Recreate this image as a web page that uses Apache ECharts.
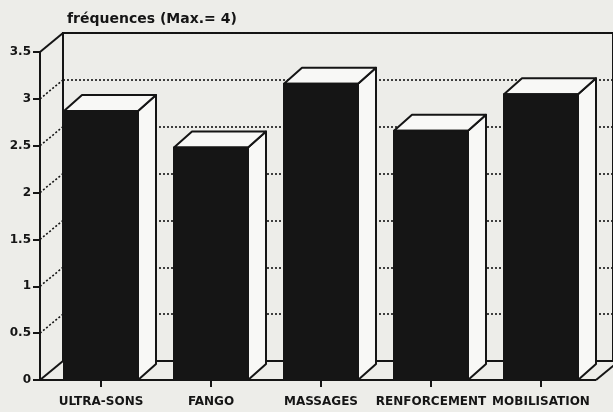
<!DOCTYPE html>
<html>
<head>
<meta charset="utf-8">
<script src="https://cdn.jsdelivr.net/npm/echarts@6/dist/echarts.min.js"></script>
<style>
  html, body { margin: 0; padding: 0; background: #edede9; }
  #chart { width: 613px; height: 412px; }
</style>
</head>
<body>
<div id="chart"></div>
<script>
const categories = ['ULTRA-SONS', 'FANGO', 'MASSAGES', 'RENFORCEMENT', 'MOBILISATION']
const frequencies = [2.87, 2.48, 3.16, 2.66, 3.05]
const yTicks = [0, 0.5, 1, 1.5, 2, 2.5, 3, 3.5]

const ink = '#151515'
const face = '#f8f8f6'
const font = 'DejaVu Sans'

// depth of the box walls and of the bars, in pixels
const wallDx = 23
const wallDy = -19
const barDx = 18
const barDy = -16
const barWidth = 74
const axisShift = 6

function renderBar(params, api) {
  const i = api.value(0)
  const top = api.coord([i, api.value(1)])
  const base = api.coord([i, 0])
  const x0 = top[0] - barWidth / 2
  const x1 = top[0] + barWidth / 2
  const line = { stroke: ink, lineWidth: 2, lineJoin: 'round' }
  return {
    type: 'group',
    children: [
      {
        type: 'polygon',
        shape: { points: [[x1, base[1]], [x1 + barDx, base[1] + barDy], [x1 + barDx, top[1] + barDy], [x1, top[1]]] },
        style: Object.assign({ fill: face }, line),
      },
      {
        type: 'polygon',
        shape: { points: [[x0, top[1]], [x0 + barDx, top[1] + barDy], [x1 + barDx, top[1] + barDy], [x1, top[1]]] },
        style: Object.assign({ fill: face }, line),
      },
      {
        type: 'rect',
        shape: { x: x0, y: top[1], width: barWidth, height: base[1] - top[1] },
        style: Object.assign({ fill: ink }, line),
      },
    ],
  }
}

function renderSideWall(params, api) {
  const cs = params.coordSys
  const v = api.value(1)
  const p = api.coord([0, v])
  const xa = cs.x - axisShift
  const solid = v === 0 || v === yTicks[yTicks.length - 1]
  const children = [
    {
      type: 'line',
      shape: { x1: xa, y1: p[1], x2: xa + wallDx, y2: p[1] + wallDy },
      style: solid
        ? { stroke: ink, lineWidth: 2 }
        : { stroke: ink, lineWidth: 1.6, lineDash: [2, 2] },
    },
  ]
  if (v === 0) {
    const xe = cs.x + cs.width
    children.push(
      { type: 'line', shape: { x1: xa, y1: p[1], x2: xe, y2: p[1] }, style: { stroke: ink, lineWidth: 2 } },
      { type: 'line', shape: { x1: xe, y1: p[1], x2: xe + wallDx, y2: p[1] + wallDy }, style: { stroke: ink, lineWidth: 2 } },
    )
  }
  return { type: 'group', children }
}

const chart = echarts.init(document.getElementById('chart'))

chart.setOption({
  backgroundColor: '#edede9',
  animation: false,
  title: {
    text: 'fréquences (Max.= 4)',
    left: 62,
    top: 7,
    textStyle: { fontFamily: font, fontSize: 14, fontWeight: 'bold', color: ink },
  },
  grid: [
    { left: 46, right: 17, top: 52, bottom: 32 },
    { left: 46 - axisShift + wallDx, right: -40, top: 52 + wallDy, bottom: 32 - wallDy, show: true, borderColor: ink, borderWidth: 2, backgroundColor: 'transparent' },
  ],
  xAxis: [
    {
      type: 'category',
      gridIndex: 0,
      data: categories,
      axisLine: { show: false },
      axisTick: { show: true, alignWithLabel: true, length: 7, lineStyle: { color: ink, width: 2 } },
      axisLabel: { interval: 0, margin: 16, color: ink, fontFamily: font, fontSize: 12, fontWeight: 'bold' },
    },
    {
      type: 'category',
      gridIndex: 1,
      data: categories,
      show: false,
    },
  ],
  yAxis: [
    {
      type: 'value',
      gridIndex: 0,
      min: 0,
      max: 3.5,
      interval: 0.5,
      offset: axisShift,
      axisLine: { show: true, lineStyle: { color: ink, width: 2 } },
      axisTick: { show: true, length: 7, lineStyle: { color: ink, width: 2 } },
      axisLabel: { margin: 9, color: ink, fontFamily: font, fontSize: 12, fontWeight: 'bold' },
      splitLine: { show: false },
    },
    {
      type: 'value',
      gridIndex: 1,
      min: 0,
      max: 3.5,
      interval: 0.5,
      axisLine: { show: true, lineStyle: { color: ink, width: 2 } },
      axisTick: { show: false },
      axisLabel: { show: false },
      splitLine: { show: true, lineStyle: { color: ink, width: 1.6, type: [2, 2] } },
    },
  ],
  series: [
    {
      type: 'custom',
      xAxisIndex: 0,
      yAxisIndex: 0,
      renderItem: renderSideWall,
      data: yTicks.map((v) => [0, v]),
      silent: true,
      z: 1,
    },
    {
      type: 'custom',
      xAxisIndex: 0,
      yAxisIndex: 0,
      renderItem: renderBar,
      data: categories.map((c, i) => [i, frequencies[i]]),
      z: 3,
    },
  ],
})
</script>
</body>
</html>
